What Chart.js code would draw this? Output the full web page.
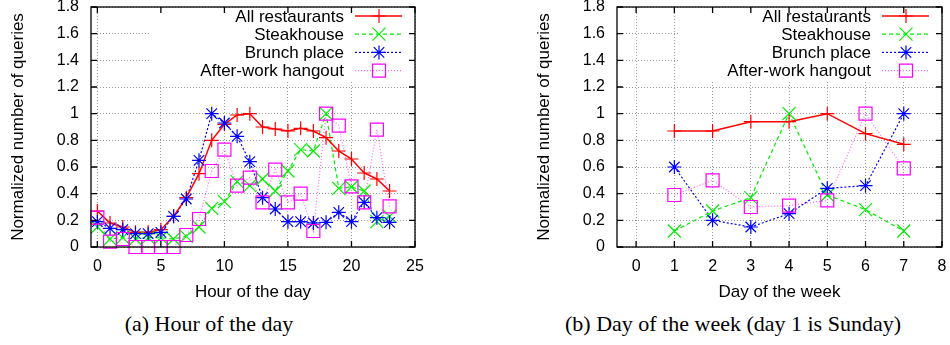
<!DOCTYPE html>
<html>
<head>
<meta charset="utf-8">
<script src="https://cdn.jsdelivr.net/npm/chart.js@4.4.1/dist/chart.umd.min.js"></script>
<style>
  body { margin: 0; background: #fff; width: 950px; height: 345px; position: relative; overflow: hidden; }
  canvas { position: absolute; top: 0; }
  #hourChart { left: 0; }
  #dayChart { left: 475px; }
  .cap { position: absolute; top: 311px; font-family: "Liberation Serif", serif; font-size: 22px; line-height: 26px; text-align: center; color: #000; white-space: nowrap; }
</style>
</head>
<body>
<canvas id="hourChart" width="475" height="305"></canvas>
<canvas id="dayChart" width="475" height="305"></canvas>
<div class="cap" style="left:59px;width:300px">(a) Hour of the day</div>
<div class="cap" style="left:533px;width:400px">(b) Day of the week (day 1 is Sunday)</div>
<script>
// Data
const hours = [0, 1, 2, 3, 4, 5, 6, 7, 8, 9, 10, 11, 12, 13, 14, 15, 16, 17, 18, 19, 20, 21, 22, 23];
const hourAll = [0.27, 0.18, 0.15, 0.11, 0.11, 0.13, 0.23, 0.37, 0.55, 0.80, 0.92, 0.99, 1.0, 0.90, 0.885, 0.87, 0.89, 0.87, 0.82, 0.72, 0.66, 0.555, 0.51, 0.42];
const hourSteak = [0.15, 0.06, 0.07, 0.06, 0.07, 0.07, 0.06, 0.08, 0.15, 0.29, 0.34, 0.49, 0.46, 0.51, 0.42, 0.57, 0.73, 0.72, 1.0, 0.44, 0.45, 0.42, 0.19, 0.23];
const hourBrunch = [0.19, 0.14, 0.13, 0.10, 0.10, 0.11, 0.23, 0.36, 0.65, 1.0, 0.93, 0.83, 0.64, 0.37, 0.285, 0.19, 0.19, 0.18, 0.185, 0.26, 0.19, 0.335, 0.22, 0.185];
const hourAfter = [0.22, 0.04, 0.06, 0.0, 0.0, 0.0, 0.0, 0.09, 0.21, 0.57, 0.73, 0.46, 0.52, 0.335, 0.58, 0.335, 0.40, 0.12, 1.0, 0.91, 0.455, 0.335, 0.88, 0.305];

const days = [1, 2, 3, 4, 5, 6, 7];
const dayAll = [0.87, 0.87, 0.94, 0.94, 1.0, 0.85, 0.77];
const daySteak = [0.12, 0.27, 0.37, 1.0, 0.39, 0.28, 0.12];
const dayBrunch = [0.60, 0.20, 0.15, 0.25, 0.44, 0.46, 1.0];
const dayAfter = [0.39, 0.50, 0.30, 0.31, 0.35, 1.0, 0.59];

const seriesNames = ['All restaurants', 'Steakhouse', 'Brunch place', 'After-work hangout'];
const hourTicks = [0, 5, 10, 15, 20, 25];
const dayTicks = [0, 1, 2, 3, 4, 5, 6, 7, 8];
const yTicks = [0, 0.2, 0.4, 0.6, 0.8, 1, 1.2, 1.4, 1.6, 1.8];

// Styles for the four series
const styles = [
    { line: '#ff0000', point: '#ff0000', dash: [], width: 1.5, shape: 'plus', r: 7 },
    { line: '#00ee00', point: '#00ee00', dash: [4, 3], width: 1.2, shape: 'x', r: 6.5 },
    { line: '#0000ff', point: '#0000ff', dash: [2, 2], width: 1.2, shape: 'star', r: 7 },
    { line: 'rgba(255,0,255,0.6)', point: '#ff00ff', dash: [1, 2], width: 1.2, shape: 'box', r: 6.5 }
];

const FONT = 'Liberation Sans';

function drawMarker(ctx, shape, x, y, r) {
    ctx.beginPath();
    if (shape === 'plus' || shape === 'star') {
        ctx.moveTo(x - r, y); ctx.lineTo(x + r, y);
        ctx.moveTo(x, y - r); ctx.lineTo(x, y + r);
    }
    if (shape === 'x' || shape === 'star') {
        const d = shape === 'star' ? r * 0.75 : r;
        ctx.moveTo(x - d, y - d); ctx.lineTo(x + d, y + d);
        ctx.moveTo(x - d, y + d); ctx.lineTo(x + d, y - d);
    }
    if (shape === 'box') {
        ctx.rect(x - r, y - r, 2 * r, 2 * r);
    }
    ctx.stroke();
}

// gnuplot-like markers, legend box and frame
const gnuPlugin = {
    id: 'gnu',
    beforeDatasetsDraw(chart) {
        const ctx = chart.ctx;
        const a = chart.chartArea;
        ctx.save();
        ctx.fillStyle = '#fff';
        ctx.fillRect(a.right - 264, a.top + 1, 263, 80 - a.top);
        ctx.font = '17px "' + FONT + '"';
        ctx.textAlign = 'right';
        ctx.textBaseline = 'middle';
        chart.data.datasets.forEach((ds, i) => {
            const s = styles[i];
            const y = 16 + i * 18.2;
            ctx.fillStyle = '#000';
            ctx.fillText(ds.label, a.right - 71, y + 1);
            ctx.strokeStyle = s.line;
            ctx.lineWidth = s.width;
            ctx.setLineDash(s.dash);
            ctx.beginPath();
            ctx.moveTo(a.right - 60, y);
            ctx.lineTo(a.right - 13, y);
            ctx.stroke();
            ctx.setLineDash([]);
            ctx.strokeStyle = s.point;
            ctx.lineWidth = 1.2;
            drawMarker(ctx, s.shape, a.right - 36, y, s.r);
        });
        ctx.restore();
    },
    afterDatasetsDraw(chart) {
        const ctx = chart.ctx;
        ctx.save();
        chart.data.datasets.forEach((ds, i) => {
            const meta = chart.getDatasetMeta(i);
            const s = styles[i];
            ctx.strokeStyle = s.point;
            ctx.lineWidth = 1.2;
            meta.data.forEach(p => drawMarker(ctx, s.shape, p.x, p.y, s.r));
        });
        ctx.restore();
    },
    afterDraw(chart) {
        const ctx = chart.ctx;
        const a = chart.chartArea;
        const xs = chart.scales.x;
        const ys = chart.scales.y;
        ctx.save();
        ctx.strokeStyle = '#000';
        ctx.lineWidth = 1.3;
        ctx.strokeRect(a.left, a.top, a.right - a.left, a.bottom - a.top);
        ctx.beginPath();
        ys.ticks.forEach(t => {
            const py = ys.getPixelForValue(t.value);
            ctx.moveTo(a.left, py); ctx.lineTo(a.left + 6, py);
            ctx.moveTo(a.right, py); ctx.lineTo(a.right - 6, py);
        });
        xs.ticks.forEach(t => {
            const px = xs.getPixelForValue(t.value);
            ctx.moveTo(px, a.bottom); ctx.lineTo(px, a.bottom - 6);
            ctx.moveTo(px, a.top); ctx.lineTo(px, a.top + 6);
        });
        ctx.stroke();
        ctx.restore();
    }
};

function makeChart(id, xs, values, xMax, xTicks, xTitle, padLeft, padRight) {
    const datasets = values.map((vals, i) => ({
        label: seriesNames[i],
        data: xs.map((x, j) => ({ x: x, y: vals[j] })),
        borderColor: styles[i].line,
        borderWidth: styles[i].width,
        borderDash: styles[i].dash,
        pointRadius: 0,
        pointHoverRadius: 0,
        tension: 0,
        fill: false,
        clip: false
    }));

    return new Chart(document.getElementById(id), {
        type: 'line',
        data: { datasets: datasets },
        plugins: [gnuPlugin],
        options: {
            responsive: false,
            animation: false,
            devicePixelRatio: 1,
            layout: { padding: { left: padLeft, right: padRight, top: 7, bottom: 0 } },
            plugins: { legend: { display: false }, tooltip: { enabled: false } },
            scales: {
                x: {
                    type: 'linear',
                    min: -0.5,
                    max: xMax,
                    afterBuildTicks: s => { s.ticks = xTicks.map(v => ({ value: v })); },
                    afterFit: s => { s.height = 58; s.paddingLeft = 0; s.paddingRight = 0; },
                    grid: { color: '#999', lineWidth: 1, drawTicks: false },
                    border: { display: false, dash: [1, 2] },
                    ticks: { color: '#000', padding: 10, font: { family: FONT, size: 16 }, callback: v => String(v) },
                    title: { display: true, text: xTitle, color: '#000', font: { family: FONT, size: 17 }, padding: { top: 0, bottom: 2 } }
                },
                y: {
                    min: 0,
                    max: 1.8,
                    afterBuildTicks: s => { s.ticks = yTicks.map(v => ({ value: v })); },
                    afterFit: s => { s.width = 91; s.paddingTop = 0; s.paddingBottom = 0; },
                    grid: { color: '#999', lineWidth: 1, drawTicks: false },
                    border: { display: false, dash: [1, 2] },
                    ticks: { color: '#000', padding: 12, font: { family: FONT, size: 16 }, callback: v => String(v) },
                    title: { display: true, text: 'Normalized number of queries', color: '#000', font: { family: FONT, size: 17 }, padding: { top: 8, bottom: 0 } }
                }
            }
        }
    });
}

// Canvas is 475 wide: left chart area 91..415, right chart area 142..467
makeChart('hourChart', hours, [hourAll, hourSteak, hourBrunch, hourAfter], 25, hourTicks, 'Hour of the day', 0, 60);
makeChart('dayChart', days, [dayAll, daySteak, dayBrunch, dayAfter], 8, dayTicks, 'Day of the week', 51, 8);
</script>
</body>
</html>
